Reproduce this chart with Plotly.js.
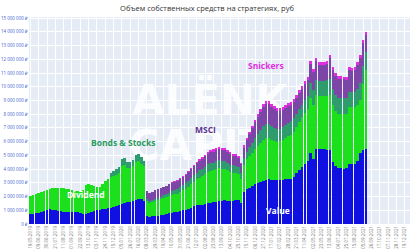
<!DOCTYPE html>
<html>
<head>
<meta charset="utf-8">
<script src="https://cdn.plot.ly/plotly-3.0.1.min.js"></script>
<style>html,body{margin:0;padding:0;background:#fff;}#chart{width:414px;height:250px;}</style>
</head>
<body>
<div id="chart"></div>
<script>
// weekly observations, first week
const startWeek = '2019-05-19';
// values in millions of rubles
const valueM = [0.73,0.75,0.78,0.82,0.90,0.98,1.05,1.07,1.05,1.02,0.98,0.95,0.90,0.88,0.85,0.85,0.87,0.85,0.80,0.76,
0.74,0.78,0.85,0.92,1.00,1.05,1.08,1.12,1.18,1.20,1.22,1.28,1.35,1.45,1.55,1.60,1.60,1.65,1.75,1.85,
1.80,1.65,0.60,0.53,0.55,0.58,0.60,0.62,0.68,0.72,0.78,0.82,0.85,0.90,0.95,1.00,1.05,1.12,1.20,1.28,
1.35,1.40,1.42,1.45,1.50,1.52,1.58,1.62,1.65,1.68,1.72,1.70,1.68,1.70,1.75,1.78,1.55,2.30,2.55,2.65,
2.75,2.90,3.00,3.08,3.15,3.20,3.25,3.20,3.20,3.18,3.20,3.22,3.25,3.28,3.30,3.45,3.70,3.95,4.17,4.40,
4.60,5.20,4.75,5.50,5.50,5.45,5.45,5.40,5.40,4.50,4.20,4.05,4.05,4.00,4.05,4.35,4.35,4.40,4.60,5.15,
5.40,5.50];
const dividendM = [1.31,1.35,1.42,1.46,1.45,1.44,1.43,1.48,1.57,1.63,1.64,1.65,1.72,1.70,1.67,1.63,1.55,1.53,1.53,1.69,
2.11,2.10,2.00,1.88,1.72,1.63,1.87,1.98,2.07,2.20,2.28,2.32,2.40,2.75,2.75,2.50,2.45,2.55,2.75,2.75,
2.60,2.55,1.05,1.00,1.05,1.10,1.15,1.18,1.20,1.22,1.25,1.28,1.30,1.32,1.38,1.45,1.52,1.60,1.70,1.80,
1.90,1.98,2.08,2.18,2.28,2.35,2.32,2.38,2.40,2.35,2.30,2.22,2.12,2.05,1.98,1.88,1.70,2.00,2.15,2.30,
2.45,2.55,2.70,2.85,3.00,3.10,3.05,2.95,2.85,2.82,2.85,2.92,3.02,3.10,3.18,3.28,3.38,3.48,3.60,3.72,
3.80,4.00,3.95,3.90,3.85,3.88,3.90,3.95,4.00,4.20,4.05,4.00,4.00,4.05,4.00,4.15,4.15,4.15,4.10,3.85,
4.80,5.70];
const bondsM = [0,0,0,0,0,0,0,0,0,0,0,0,0,0,0,0,0,0,0,0,
0,0,0,0,0,0,0,0,0,0.35,0.38,0.40,0.42,0.50,0.48,0.45,0.48,0.45,0.50,0.50,
0.45,0.40,0.15,0.12,0.12,0.15,0.15,0.18,0.20,0.22,0.25,0.28,0.30,0.32,0.35,0.38,0.40,0.42,0.45,0.48,
0.50,0.52,0.53,0.55,0.56,0.57,0.58,0.58,0.58,0.57,0.56,0.55,0.53,0.52,0.50,0.48,0.45,0.52,0.58,0.65,
0.72,0.80,0.88,0.92,0.97,1.00,1.00,0.98,0.95,0.92,0.90,0.92,0.95,0.98,1.00,0.98,0.95,0.92,0.90,0.92,
0.95,1.10,1.05,1.10,1.10,1.12,1.10,1.12,1.15,1.10,1.15,1.15,1.14,1.14,1.15,1.15,1.12,1.10,1.15,1.25,
1.30,1.35];
const msciM = [0,0,0,0,0,0,0,0,0,0,0,0,0,0,0,0,0,0,0,0,
0,0,0,0,0,0,0,0,0,0,0,0,0,0,0,0,0,0,0,0,
0,0,0.60,0.62,0.62,0.63,0.63,0.63,0.62,0.62,0.62,0.60,0.62,0.62,0.60,0.62,0.63,0.65,0.66,0.68,
0.68,0.70,0.72,0.74,0.76,0.78,0.80,0.80,0.80,0.80,0.78,0.76,0.74,0.72,0.70,0.68,0.65,0.75,0.85,0.95,
1.05,1.15,1.22,1.32,1.38,1.45,1.45,1.40,1.35,1.32,1.30,1.28,1.25,1.22,1.20,1.18,1.18,1.18,1.18,1.15,
1.15,1.35,1.30,1.40,1.15,1.15,1.15,1.20,1.55,1.45,1.40,1.40,1.38,1.35,1.30,1.55,1.55,1.60,1.75,1.85,
1.65,1.20];
const snickersM = [0,0,0,0,0,0,0,0,0,0,0,0,0,0,0,0,0,0,0,0,
0,0,0,0,0,0,0,0,0,0,0,0,0,0,0,0,0,0,0,0,
0,0,0,0,0,0,0,0,0,0,0.05,0.05,0.05,0.05,0.06,0.06,0.07,0.07,0.08,0.08,
0.09,0.10,0.10,0.12,0.14,0.15,0.16,0.16,0.16,0.16,0.15,0.15,0.14,0.14,0.14,0.14,0.13,0.15,0.17,0.18,
0.20,0.20,0.21,0.22,0.22,0.23,0.23,0.22,0.22,0.22,0.22,0.22,0.22,0.22,0.22,0.22,0.22,0.22,0.22,0.22,
0.22,0.22,0.22,0.22,0.22,0.22,0.22,0.22,0.22,0.22,0.20,0.20,0.20,0.20,0.20,0.22,0.22,0.22,0.22,0.23,
0.25,0.25];
const seriesNames = ['Value','Dividend','Bonds & Stocks','MSCI','Snickers'];
const seriesColors = ['#1010e0','#1de01d','#2e9c6c','#7b46a6','#e02ee0'];
const titleText = 'Объем собственных средств на стратегиях, руб';
const watermarkLines = ['ALЁNKA','CAPITAL'];

const dates = [];
{
  const d0 = new Date(startWeek + 'T00:00:00Z');
  for (let i = 0; i < valueM.length; i++) {
    const d = new Date(d0.getTime() + i * 7 * 86400000);
    dates.push(d.toISOString().slice(0, 10));
  }
}
const allSeries = [valueM, dividendM, bondsM, msciM, snickersM];
const traces = allSeries.map((arr, k) => ({
  type: 'bar',
  x: dates,
  y: arr.map(v => v * 1e6),
  name: seriesNames[k],
  marker: {color: seriesColors[k], line: {width: 0}},
  hoverinfo: 'skip'
}));

const L = 29, R = 410, T = 17, B = 224;
function px(x){return (x - L) / (R - L);}
function py(y){return (B - y) / (B - T);}

// watermark drawn behind the bars as shape labels
const wmFont = {family: 'DejaVu Sans', size: 42, weight: 'bold', color: 'rgba(255,255,255,0.85)'};
const wmCenters = [[226, 98], [226, 142]];
const shapes = watermarkLines.map((t, k) => ({
  type: 'rect', layer: 'below', xref: 'x domain', yref: 'y domain',
  x0: px(wmCenters[k][0] - 110), x1: px(wmCenters[k][0] + 110),
  y0: py(wmCenters[k][1] + 22), y1: py(wmCenters[k][1] - 22),
  line: {width: 0}, fillcolor: 'rgba(0,0,0,0)',
  label: {text: t, textposition: 'middle center', font: wmFont, padding: 0}
}));

const annotations = [
  {text: '<b>Snickers</b>', x: px(266), y: py(65), font: {size: 8.5, color: '#e02ee0', family: 'Open Sans'}},
  {text: '<b>MSCI</b>', x: px(205), y: py(129), font: {size: 8.5, color: '#5c3290', family: 'Open Sans'}},
  {text: '<b>Bonds &amp; Stocks</b>', x: px(123), y: py(142), font: {size: 8.5, color: '#2a9a5e', family: 'Open Sans'}},
  {text: '<b>Dividend</b>', x: px(86), y: py(194), font: {size: 8.5, color: '#ffffff', family: 'Open Sans'}},
  {text: '<b>Value</b>', x: px(278), y: py(210), font: {size: 8.5, color: '#ffffff', family: 'Open Sans'}}
].map(a => Object.assign({xref: 'paper', yref: 'paper', showarrow: false, xanchor: 'center', yanchor: 'middle'}, a));

const layout = {
  width: 414, height: 250,
  margin: {l: L, r: 414 - R, t: T, b: 250 - B, pad: 0},
  paper_bgcolor: '#ffffff',
  plot_bgcolor: '#e5ecf6',
  barmode: 'stack',
  bargap: 0.12,
  showlegend: false,
  separators: ', ',
  font: {family: 'Open Sans', size: 5},
  title: {text: titleText, x: 0.5, xanchor: 'center', y: 0.965, yanchor: 'middle', font: {size: 7.5, color: '#333', family: 'Open Sans'}},
  xaxis: {
    type: 'date',
    range: ['2019-05-15 12:00', '2022-01-01'],
    tick0: startWeek,
    dtick: 21 * 86400000,
    tickformat: '%d.%m.%Y',
    tickangle: -90,
    tickfont: {size: 4.5, color: '#777'},
    gridcolor: '#ffffff',
    showline: false,
    zeroline: false,
    ticks: ''
  },
  yaxis: {
    range: [0, 15.08e6],
    dtick: 1e6,
    tickformat: ',d',
    ticksuffix: ' ₽',
    tickfont: {size: 4.5, color: '#3a62d0'},
    gridcolor: '#ffffff',
    zeroline: false,
    ticks: ''
  },
  shapes: shapes,
  annotations: annotations
};
Plotly.newPlot('chart', traces, layout, {staticPlot: true, displayModeBar: false});
</script>
</body>
</html>
